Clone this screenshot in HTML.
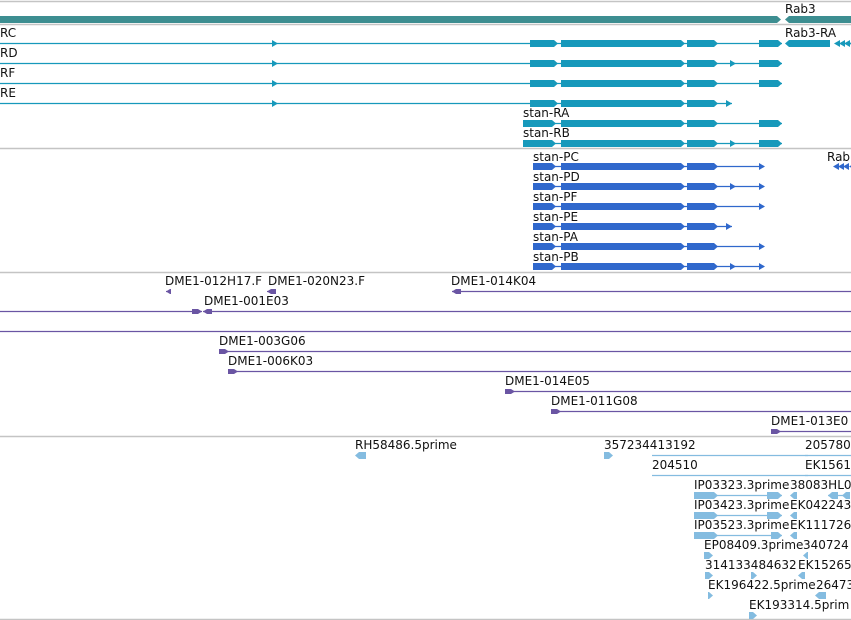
<!DOCTYPE html>
<html><head><meta charset="utf-8"><style>
html,body{margin:0;padding:0;background:#fff;}
svg{display:block;font-family:"DejaVu Sans","Liberation Sans",sans-serif;font-size:12px;}
</style></head><body>
<svg id="c" width="851" height="620" viewBox="0 0 851 620" xmlns="http://www.w3.org/2000/svg"></svg>
<script>
// genomic positions expressed in view units (0..851)
var separators=[1,24,148,272,436,619];
// transcripts: [label, labelX, rowY, lineStart, lineEnd, exons, extraArrows]
var mrnaRows=[
 ["RC",0,43,0,782,[[530,558],[561,685],[687,718],[759,782]],[277]],
 ["RD",0,63,0,782,[[530,558],[561,685],[687,718],[759,782]],[277,735]],
 ["RF",0,83,0,782,[[530,558],[561,685],[687,718],[759,782]],[277]],
 ["RE",0,103,0,732,[[530,558],[561,685],[687,718]],[277,731]],
 ["stan-RA",523,123,523,782,[[523,556],[561,685],[687,718],[759,782]],[]],
 ["stan-RB",523,143,523,782,[[523,556],[561,685],[687,718],[759,782]],[735]]
];
var protRows=[
 ["stan-PC",533,166,533,764,[[533,556],[561,685],[687,718]],[764]],
 ["stan-PD",533,186,533,764,[[533,556],[561,685],[687,718]],[735,764]],
 ["stan-PF",533,206,533,764,[[533,556],[561,685],[687,718]],[764]],
 ["stan-PE",533,226,533,732,[[533,556],[561,685],[687,718]],[731]],
 ["stan-PA",533,246,533,764,[[533,556],[561,685],[687,718]],[764]],
 ["stan-PB",533,266,533,764,[[533,556],[561,685],[687,718]],[735,764]]
];
// BAC clones: [label, labelX, rowY, start, end, dir]
var bacRows=[
 ["DME1-012H17.F",165,291,166,171,-1],
 ["DME1-020N23.F",268,291,267,276,-1],
 ["DME1-014K04",451,291,452,851,-1],
 ["",0,311,0,202,1],
 ["DME1-001E03",204,311,203,851,-1],
 ["",0,331,0,851,0],
 ["DME1-003G06",219,351,219,851,1],
 ["DME1-006K03",228,371,228,851,1],
 ["DME1-014E05",505,391,505,851,1],
 ["DME1-011G08",551,411,551,851,1],
 ["DME1-013E0",771,431,771,851,1]
];
// ESTs: [label, labelX, rowY, start, end, exons, dir]
var estRows=[
 ["RH58486.5prime",355,455,355,366,[[355,366]],-1],
 ["357234413192",604,455,604,613,[[604,613]],1],
 ["",652,455,652,808,[],0],
 ["205780",805,455,805,851,[],0],
 ["204510",652,475,652,808,[],0],
 ["EK1561",805,475,805,851,[],0],
 ["IP03323.3prime",694,495,694,782,[[694,718],[767,782]],1],
 ["38083HL0",790,495,790,797,[[790,797]],-1],
 ["",828,495,828,850,[[828,838],[842,850]],-1],
 ["IP03423.3prime",694,515,694,782,[[694,718],[767,782]],1],
 ["EK042243",790,515,790,797,[[790,797]],-1],
 ["IP03523.3prime",694,535,694,782,[[694,718],[771,782]],1],
 ["EK111726",790,535,790,797,[[790,797]],-1],
 ["EP08409.3prime",704,555,704,713,[[704,713]],1],
 ["340724",803,555,803,808,[[803,808]],-1],
 ["314133484632",705,575,705,713,[[705,713],[751,757]],1],
 ["EK15265",798,575,798,805,[[798,805]],-1],
 ["EK196422.5prime",708,595,708,713,[[708,713]],1],
 ["26473",816,595,815,826,[[815,826]],-1],
 ["EK193314.5prim",749,615,749,757,[[749,757]],1]
];
var xScale=function(v){return v;};
var svg=document.getElementById('c');
var NS="http://www.w3.org/2000/svg";
function mk(tag,attrs,name){var e=document.createElementNS(NS,tag);for(var k in attrs)e.setAttribute(k,attrs[k]);
 
 
 svg.appendChild(e);return e;}
function line(a,b,y,c,name){mk('line',{x1:xScale(a),x2:xScale(b),y1:y+0.5,y2:y+0.5,stroke:c,'stroke-width':1.2},name);}
function exon(a,b,y,c,dir,name,h){h=h||3;a=xScale(a);b=xScale(b);var p;
 if(dir<0)p=[[a,y+0.5],[a+4,y-h],[b,y-h],[b,y+h+1],[a+4,y+h+1]];
 else p=[[a,y-h],[b-4,y-h],[b,y+0.5],[b-4,y+h+1],[a,y+h+1]];
 mk('polygon',{points:p.map(function(q){return q.join(',')}).join(' '),fill:c},name);}
function arrow(x,y,c,dir,name){x=xScale(x);var p=dir>0?[[x-5,y-3],[x+1,y+0.5],[x-5,y+4]]:[[x+5,y-3],[x-1,y+0.5],[x+5,y+4]];
 mk('polygon',{points:p.map(function(q){return q.join(',')}).join(' '),fill:c},name);}
function label(t,x,y,name){if(!t)return;var e=mk('text',{x:xScale(x),y:y,fill:'#111'},name);e.textContent=t;}

separators.forEach(function(y){mk('line',{x1:0,x2:851,y1:y+0.5,y2:y+0.5,stroke:'#c4c4c4','stroke-width':1.5},'track-separator');});
// gene track
exon(0,781,19,'#3d8e91',1,'gene-stan-bar',3);
exon(785,851,19,'#3d8e91',-1,'gene-rab3-bar',3);
label('Rab3',785,13,'gene-rab3-label');
// mRNA
var mc='#1799bb';
mrnaRows.forEach(function(r){label(r[0],r[1],r[2]-6,'transcript-label');line(r[3],r[4],r[2],mc,'transcript-intron-line');
 r[5].forEach(function(e){exon(e[0],e[1],r[2],mc,1,'transcript-exon');});
 r[6].forEach(function(x){arrow(x,r[2],mc,1,'transcript-strand-arrow');});});
label('Rab3-RA',785,37,'transcript-label');
exon(785,830,43,mc,-1,'transcript-exon');
[835,840,845,850].forEach(function(x){arrow(x,43,mc,-1,'transcript-strand-arrow');});
// proteins
var pc='#3068cc';
protRows.forEach(function(r){label(r[0],r[1],r[2]-5,'protein-label');line(r[3],r[4],r[2],pc,'protein-line');
 r[5].forEach(function(e){exon(e[0],e[1],r[2],pc,1,'protein-segment');});
 r[6].forEach(function(x){arrow(x,r[2],pc,1,'protein-strand-arrow');});});
label('Rab',827,161,'protein-label');
[834,839,844,850].forEach(function(x){arrow(x,166,pc,-1,'protein-strand-arrow');});
// BACs
var bc='#6a55a3';
bacRows.forEach(function(r){label(r[0],r[1],r[2]-6,'bac-label');line(r[3],r[4],r[2],bc,'bac-line');
 if(r[5]>0){ if(r[3]>0)exon(r[3],r[3]+10,r[2],bc,1,'bac-end-marker',2); else exon(r[4]-10,r[4],r[2],bc,1,'bac-end-marker',2);}
 if(r[5]<0)exon(r[3],r[3]+(r[4]-r[3]>20?9:r[4]-r[3]),r[2],bc,-1,'bac-end-marker',2);});
// ESTs
var ec='#84bce0';
estRows.forEach(function(r){label(r[0],r[1],r[2]-6,'est-label');
 if(r[4]-r[3]>15&&r[5].length!==1)line(r[3],r[4],r[2],ec,'est-line');
 r[5].forEach(function(e){exon(e[0],e[1],r[2],ec,r[6],'est-segment');});});
</script>
</body></html>
